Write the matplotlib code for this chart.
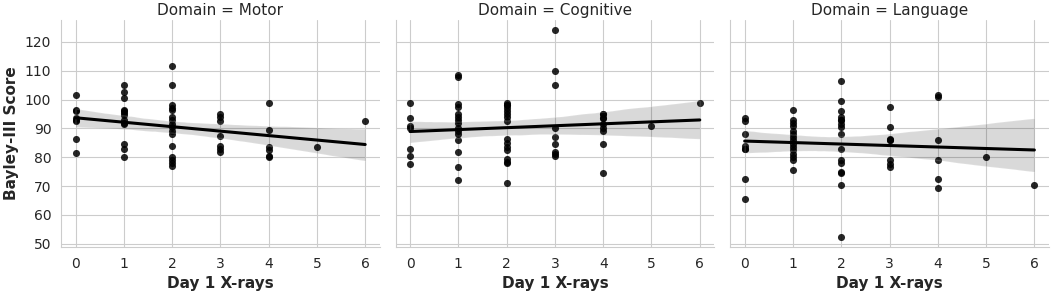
import numpy as np
import pandas as pd
import matplotlib
matplotlib.use("Agg")
import matplotlib.pyplot as plt
import seaborn as sns

# Bayley-III scores grouped by number of day-1 X-rays (index = X-ray count)
domains = ["Motor", "Cognitive", "Language"]
xray_counts = [0, 1, 2, 3, 4, 5, 6]

motor_scores = [
    [101.5, 96.5, 96, 93.5, 93, 92.5, 86.5, 81.5],
    [105, 102.5, 100.5, 96.5, 96, 95.5, 94.5, 93, 92, 91.5, 84.5, 83, 80],
    [111.5, 105, 98, 97, 96.5, 94, 93, 91.5, 90.5, 89, 88, 84, 80, 79, 78, 77],
    [95, 94, 92.5, 87.5, 84, 83, 82],
    [99, 89.5, 83.5, 82.5, 80.5, 80],
    [83.5],
    [92.5],
]
cognitive_scores = [
    [99, 93.5, 91, 90, 83, 80.5, 77.5],
    [108.5, 108, 98.5, 97.5, 95, 94, 93, 92, 90, 89, 88, 86, 82, 76.5, 72],
    [99, 98, 98, 97, 96, 95, 94, 92.5, 86.5, 85, 83.5, 82.5, 79.5, 78.5, 78, 71],
    [124, 110, 105, 90, 87, 84.5, 82, 81, 80.5],
    [95, 95, 93.5, 93.5, 91.5, 90, 89, 84.5, 74.5],
    [91],
    [99],
]
language_scores = [
    [93.5, 92.5, 88, 84, 83, 83, 72.5, 65.5],
    [96.5, 93, 92, 91, 89, 88, 87, 86, 84.5, 83.5, 82.5, 81, 80, 79, 75.5],
    [106.5, 99.5, 96, 94, 93, 93, 91.5, 90.5, 88, 83, 79, 78, 75, 74.5, 70.5, 52.5],
    [97.5, 90.5, 86.5, 86, 86, 79, 77.5, 76.5],
    [101.5, 101, 86, 79, 72.5, 69.5],
    [80],
    [70.5],
]

rows = []
for dom, groups in zip(domains, [motor_scores, cognitive_scores, language_scores]):
    for n, scores in zip(xray_counts, groups):
        for s in scores:
            rows.append((dom, n, s))
df = pd.DataFrame(rows, columns=["Domain", "Day 1 X-rays", "Bayley-III Score"])

sns.set_style("whitegrid")
plt.rcParams["font.family"] = ["DejaVu Sans"]

fig, axes = plt.subplots(1, 3, figsize=(10.52, 2.95), dpi=100, sharey=True)
fig.subplots_adjust(left=0.058, right=0.997, bottom=0.163, top=0.932, wspace=0.05)

for ax, dom in zip(axes, domains):
    sub = df[df["Domain"] == dom]
    sns.regplot(data=sub, x="Day 1 X-rays", y="Bayley-III Score", ax=ax,
                color="black", seed=0, truncate=True,
                scatter_kws={"s": 26, "alpha": 0.85, "linewidths": 0},
                line_kws={"linewidth": 2.2})
    ax.set_title(f"Domain = {dom}", fontsize=11, pad=4)
    ax.set_xlim(-0.3, 6.3)
    ax.set_ylim(48.9, 127.6)
    ax.set_xticks(xray_counts)
    ax.set_yticks(range(50, 121, 10))
    ax.tick_params(labelsize=10)
    ax.set_xlabel("Day 1 X-rays", fontsize=11, fontweight="bold")
    ax.set_ylabel("")
    sns.despine(ax=ax)

axes[0].set_ylabel("Bayley-III Score", fontsize=11, fontweight="bold")

fig.savefig("out.png", dpi=100)
